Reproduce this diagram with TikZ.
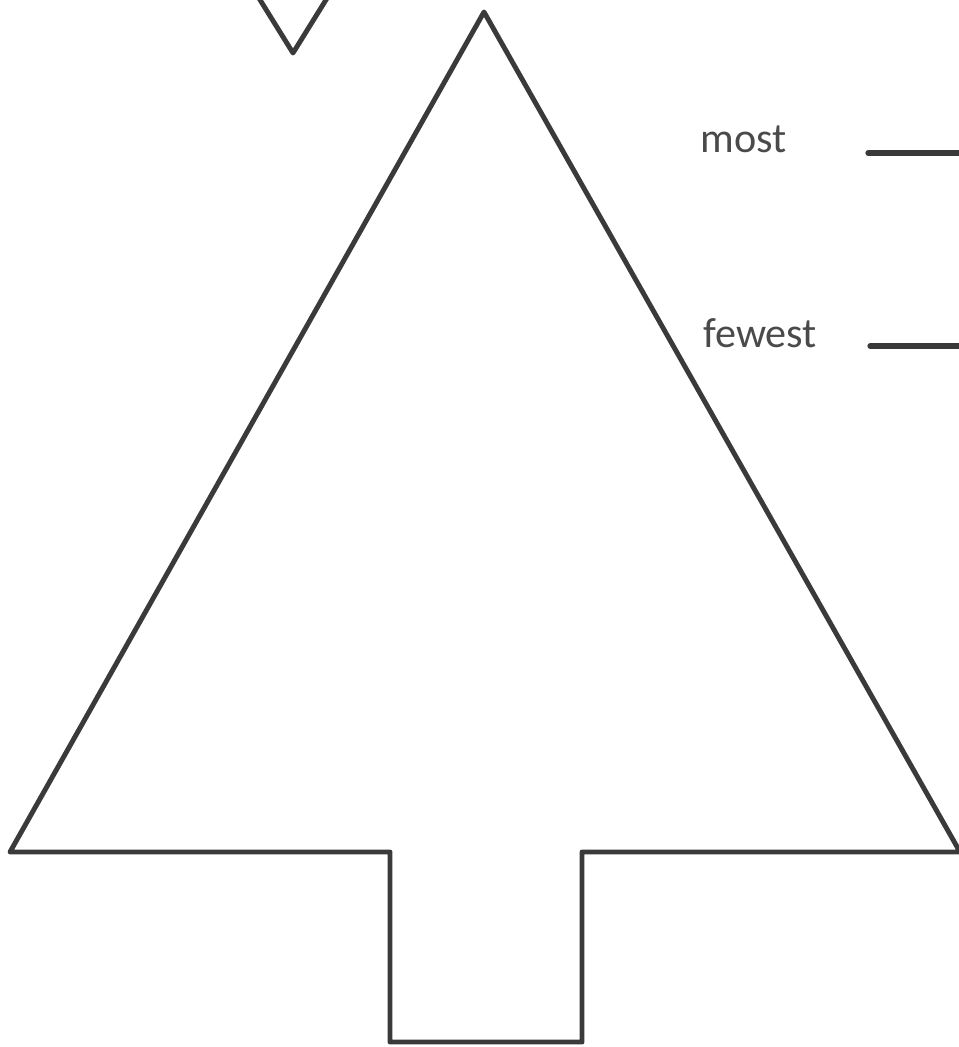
\documentclass[tikz,border=0pt]{standalone}
\usepackage{fontspec}
\setmainfont{Carlito}
\usepackage{tikz}
\usetikzlibrary{positioning}
\definecolor{TreeInk}{HTML}{3A3A3A}
\definecolor{LabelInk}{HTML}{4A4A4A}

\begin{document}
\begin{tikzpicture}[x=0.02cm, y=-0.02cm, line join=round, line cap=round,
   outline/.style={draw=TreeInk, line width=2.8pt},
   blank/.style={draw=TreeInk, line width=3pt},
   label/.style={anchor=base west, inner sep=0pt, text=LabelInk, font=\fontsize{24}{28}\selectfont}]
  \useasboundingbox (0,0) rectangle (958,1047);
  % the tree and the small point at the top
  \draw[outline] (257,-5) -- (293,53) -- (329,-5);
  \draw[outline] (10,852) -- (484,12) -- (960,852) -- (582,852) -- (582,1042)
    -- (390,1042) -- (390,852) -- cycle;
  % labels with their blanks
  \node[label] (most) at (700,153) {most};
  \node[label] (fewest) at (703,347) {fewest};
  \coordinate (mostA) at (868,153);   \coordinate (mostB) at (962,153);
  \coordinate (fewestA) at (870,346); \coordinate (fewestB) at (962,346);
  \draw[blank] (mostA) -- (mostB);
  \draw[blank] (fewestA) -- (fewestB);
\end{tikzpicture}
\end{document}
